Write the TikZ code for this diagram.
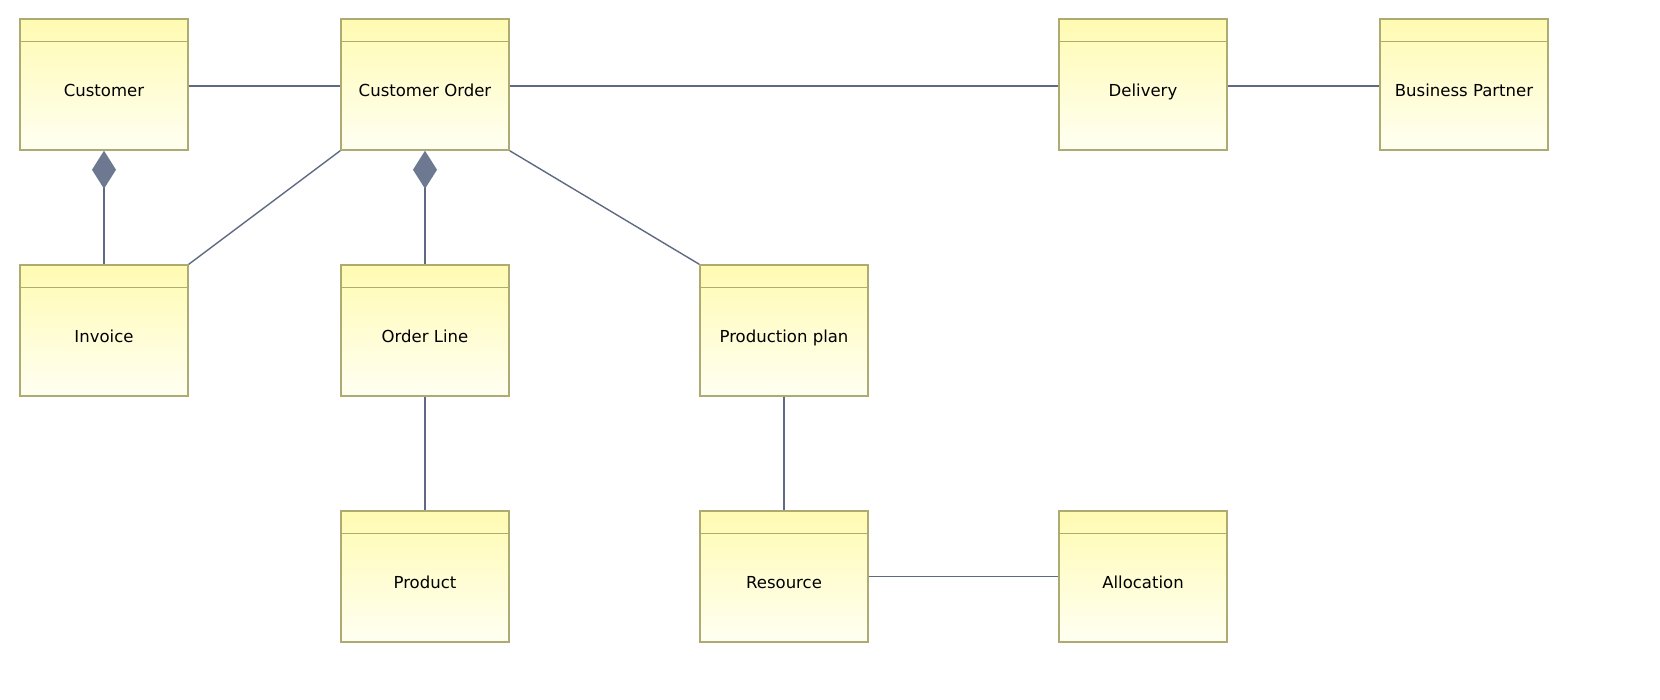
\documentclass[tikz,border=0pt]{standalone}
\usepackage{fontspec}
\setmainfont{DejaVu Sans}
\usetikzlibrary{arrows.meta,positioning}
\definecolor{boxline}{HTML}{ADAB72}
\definecolor{boxtop}{HTML}{FFFBB2}
\definecolor{boxbot}{HTML}{FFFFF2}
\definecolor{conline}{HTML}{5F6984}
\definecolor{diamondfill}{HTML}{6D7891}

\begin{document}
\begin{tikzpicture}[x=0.01cm,y=-0.01cm,
	entity/.style={draw=boxline,line width=0.4pt,top color=boxtop,bottom color=boxbot,
		minimum width=1.68cm,minimum height=1.31cm,inner sep=0pt,
		text height=1.6ex,text depth=0.4ex,
		font=\fontsize{4.7}{5.5}\selectfont},
	assoc/.style={draw=conline,line width=0.4pt},
	compose/.style={assoc,-{Diamond[length=0.38cm,width=0.24cm,fill=diamondfill,color=diamondfill]}}]
	\useasboundingbox (0,0) rectangle (1660,700);
	\node[entity] (customer) at (104,84.5) {Customer};
	\node[entity] (order) at (425,84.5) {Customer Order};
	\node[entity] (delivery) at (1143,84.5) {Delivery};
	\node[entity] (partner) at (1464,84.5) {Business Partner};
	\node[entity] (invoice) at (104,330.5) {Invoice};
	\node[entity] (line) at (425,330.5) {Order Line};
	\node[entity] (plan) at (784,330.5) {Production plan};
	\node[entity] (product) at (425,576.5) {Product};
	\node[entity] (resource) at (784,576.5) {Resource};
	\node[entity] (allocation) at (1143,576.5) {Allocation};
	% header strips
	\foreach \n in {customer,order,delivery,partner,invoice,line,plan,product,resource,allocation}
		\draw[boxline,line width=0.4pt] ([yshift=-0.23cm]\n.north west) -- ([yshift=-0.23cm]\n.north east);
	% connectors
	\draw[assoc] ([yshift=-0.015cm]customer.east) -- ([yshift=-0.015cm]order.west);
	\draw[assoc] ([yshift=-0.015cm]order.east) -- ([yshift=-0.015cm]delivery.west);
	\draw[assoc] ([yshift=-0.015cm]delivery.east) -- ([yshift=-0.015cm]partner.west);
	\draw[compose] (invoice.north) -- (customer.south);
	\draw[compose] (line.north) -- (order.south);
	\draw[assoc] (order.south west) -- (invoice.north east);
	\draw[assoc] (order.south east) -- (plan.north west);
	\draw[assoc] (line.south) -- (product.north);
	\draw[assoc] (plan.south) -- (resource.north);
	\draw[assoc] (resource.east) -- (allocation.west);
\end{tikzpicture}
\end{document}
